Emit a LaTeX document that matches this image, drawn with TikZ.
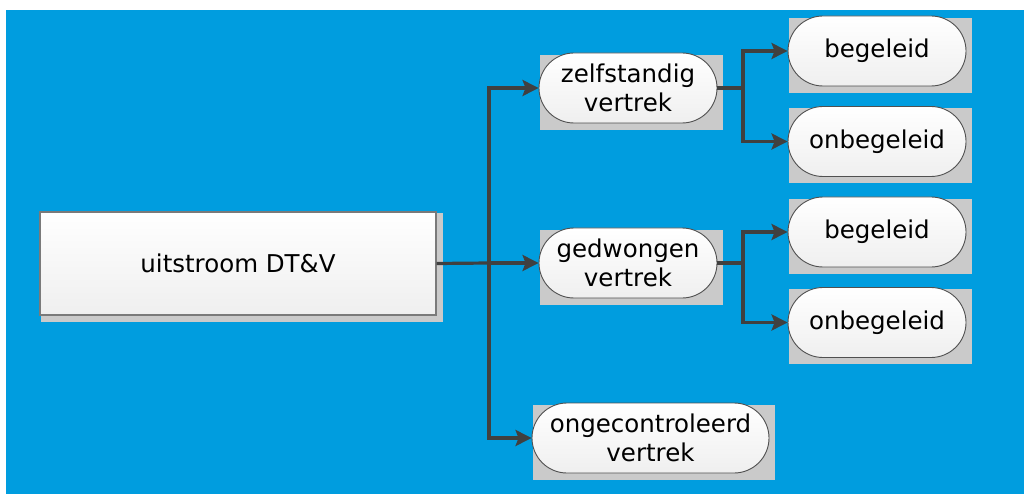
\documentclass[tikz,border=0pt]{standalone}
\usepackage{fontspec}
\setmainfont{DejaVu Sans}
\usetikzlibrary{arrows.meta,backgrounds,shapes.misc}
\definecolor{bgblue}{HTML}{009DDF}
\definecolor{shadowgrey}{HTML}{CACACA}
\definecolor{linegrey}{HTML}{404040}
\definecolor{pillborder}{HTML}{505050}
\definecolor{boxborder}{HTML}{7A7A7A}
\definecolor{fillbottom}{HTML}{EFEFEF}
\tikzset{
  pill/.style={rounded rectangle, draw=pillborder, line width=0.9pt,
    top color=white, bottom color=fillbottom, minimum height=70pt,
    minimum width=178pt, inner sep=0pt, align=center,
    font=\fontsize{24.5pt}{29pt}\selectfont},
  mainbox/.style={rectangle, draw=boxborder, line width=1.1pt,
    top color=white, bottom color=fillbottom, minimum height=103pt,
    minimum width=396pt, inner sep=0pt, align=center,
    font=\fontsize{24.5pt}{29pt}\selectfont},
  conn/.style={draw=linegrey, line width=3.2pt},
  arr/.style={conn, -{Stealth[length=16pt,width=16pt,inset=3pt]}},
  shadowbox/.style={fill=shadowgrey, draw=none}
}
\newcommand{\dropshadow}[1]{%
  \fill[shadowbox] ([shift={(1.5,2)}]#1.west |- #1.north) rectangle ([shift={(6,6.5)}]#1.east |- #1.south);}
\begin{document}
\begin{tikzpicture}[x=1pt,y=-1pt]
\useasboundingbox (0,0) rectangle (1024,494);
% nodes
\node[mainbox] (main) at (238,263.5) {uitstroom DT\&V};
\node[pill] (zelf) at (628,88) {zelfstandig\\vertrek};
\node[pill] (gedw) at (628,263) {gedwongen\\vertrek};
\node[pill, minimum width=237pt] (ongec) at (650.5,438) {ongecontroleerd\\vertrek};
\node[pill] (beg1) at (877,51) {begeleid};
\node[pill] (onb1) at (877,141.5) {onbegeleid};
\node[pill] (beg2) at (877,232) {begeleid};
\node[pill] (onb2) at (877,322.5) {onbegeleid};
\begin{scope}[on background layer]
  \fill[bgblue] (6,10) rectangle (1024,494);
  \dropshadow{main}
  \dropshadow{zelf}
  \dropshadow{gedw}
  \dropshadow{ongec}
  \dropshadow{beg1}
  \dropshadow{onb1}
  \dropshadow{beg2}
  \dropshadow{onb2}
\end{scope}
% connectors
\coordinate (trunk) at (489,263);
\coordinate (br1) at (743,88);
\coordinate (br2) at (743,263);
\draw[conn] (main.east) -- (trunk);
\draw[arr] (trunk) -- (gedw.west);
\draw[arr] (trunk) |- (zelf.west);
\draw[arr] (trunk) |- (ongec.west);
\draw[conn] (zelf.east) -- (br1);
\draw[arr] (br1) |- (beg1.west);
\draw[arr] (br1) |- (onb1.west);
\draw[conn] (gedw.east) -- (br2);
\draw[arr] (br2) |- (beg2.west);
\draw[arr] (br2) |- (onb2.west);
\end{tikzpicture}
\end{document}
